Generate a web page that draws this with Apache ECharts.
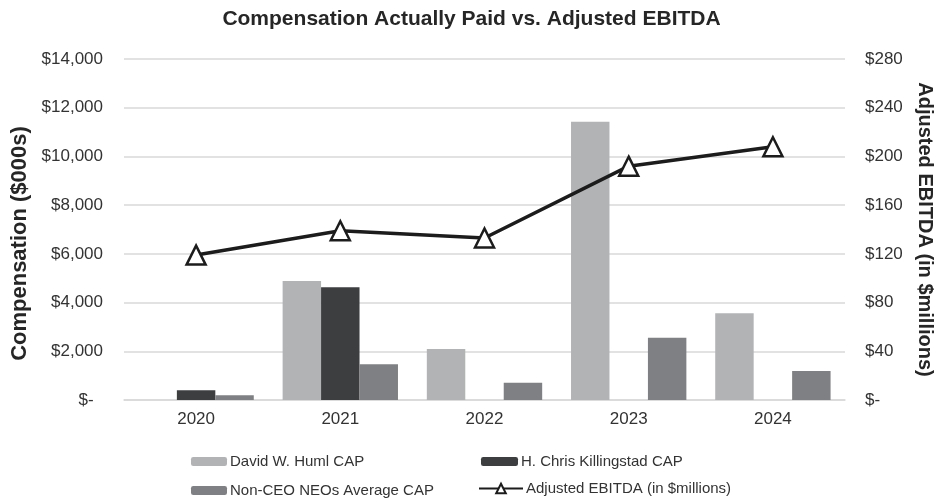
<!DOCTYPE html>
<html>
<head>
<meta charset="utf-8">
<script src="https://cdn.jsdelivr.net/npm/echarts@6/dist/echarts.min.js"></script>
<style>
  html, body { margin: 0; padding: 0; background: #fff; }
  #chart { width: 943px; height: 499px; }
</style>
</head>
<body>
<div id="chart"></div>
<script>
// data
var years = ['2020', '2021', '2022', '2023', '2024'];
var humlCap = [null, 4890, 2095, 11420, 3560];          // $000s
var killingstadCap = [400, 4630, null, null, null];     // $000s
var nonCeoCap = [190, 1465, 710, 2560, 1190];           // $000s
var adjEbitda = [119, 139, 133, 192, 208];              // $ millions

var FONT = "'Liberation Sans', Arial, sans-serif";
var TXT = '#333';

var chart = echarts.init(document.getElementById('chart'));

function legendAt(name, left, top, w, h) {
  return {
    data: [name],
    left: left,
    top: top,
    padding: 0,
    itemWidth: w,
    itemHeight: h,
    selectedMode: false,
    textStyle: { fontFamily: FONT, fontSize: 15, color: TXT, padding: [0, 0, 0, -2] }
  };
}

chart.setOption({
  backgroundColor: '#fff',
  animation: false,
  title: {
    text: 'Compensation Actually Paid vs. Adjusted EBITDA',
    left: 'center',
    top: 9,
    padding: 0,
    textStyle: { fontFamily: FONT, fontSize: 21, fontWeight: 'bold', color: '#262626' }
  },
  legend: [
    legendAt('David W. Huml CAP', 191, 454, 36, 9),
    legendAt('H. Chris Killingstad CAP', 481, 454, 37, 9),
    legendAt('Non-CEO NEOs Average CAP', 191, 483, 36, 9),
    legendAt('Adjusted EBITDA (in $millions)', 478, 481, 44, 12)
  ],
  grid: { left: 124, right: 95, top: 59, bottom: 99 },
  xAxis: {
    type: 'category',
    data: years,
    axisLine: { lineStyle: { color: '#d9d9d9', width: 1.5 } },
    axisTick: { show: false },
    axisLabel: { fontFamily: FONT, fontSize: 17, color: TXT, margin: 11 }
  },
  yAxis: [
    {
      type: 'value',
      min: 0, max: 14000, interval: 2000,
      name: 'Compensation ($000s)',
      nameLocation: 'middle',
      nameGap: 90,
      nameTextStyle: {
        fontFamily: FONT, fontSize: 22, fontWeight: 'bold', color: '#262626',
        padding: [0, 28, 0, 0]
      },
      axisLine: { show: false },
      axisTick: { show: false },
      splitLine: { lineStyle: { color: '#d9d9d9', width: 1.5 } },
      axisLabel: {
        fontFamily: FONT, fontSize: 17, color: TXT, margin: 21,
        formatter: function (v) { return v === 0 ? '$-  ' : '$' + v.toLocaleString('en-US'); }
      }
    },
    {
      type: 'value',
      min: 0, max: 280, interval: 40,
      name: 'Adjusted EBITDA (in $millions)',
      nameLocation: 'middle',
      nameRotate: -90,
      nameGap: 70,
      nameTextStyle: { fontFamily: FONT, fontSize: 20, fontWeight: 'bold', color: '#262626' },
      axisLine: { show: false },
      axisTick: { show: false },
      splitLine: { show: false },
      axisLabel: {
        fontFamily: FONT, fontSize: 17, color: TXT, margin: 20,
        formatter: function (v) { return v === 0 ? '$-' : '$' + v; }
      }
    }
  ],
  series: [
    {
      name: 'David W. Huml CAP',
      type: 'bar',
      data: humlCap,
      barGap: '0%',
      barCategoryGap: '20%',
      itemStyle: { color: '#b2b3b5' }
    },
    {
      name: 'H. Chris Killingstad CAP',
      type: 'bar',
      data: killingstadCap,
      barGap: '0%',
      barCategoryGap: '20%',
      itemStyle: { color: '#3d3e40' }
    },
    {
      name: 'Non-CEO NEOs Average CAP',
      type: 'bar',
      data: nonCeoCap,
      barGap: '0%',
      barCategoryGap: '20%',
      itemStyle: { color: '#7f8083' }
    },
    {
      name: 'Adjusted EBITDA (in $millions)',
      type: 'line',
      yAxisIndex: 1,
      data: adjEbitda,
      symbol: 'triangle',
      symbolSize: 19,
      lineStyle: { color: '#1c1c1c', width: 3.5 },
      itemStyle: { color: '#fff', borderColor: '#1c1c1c', borderWidth: 2.5 },
      z: 5
    }
  ]
});
</script>
</body>
</html>
